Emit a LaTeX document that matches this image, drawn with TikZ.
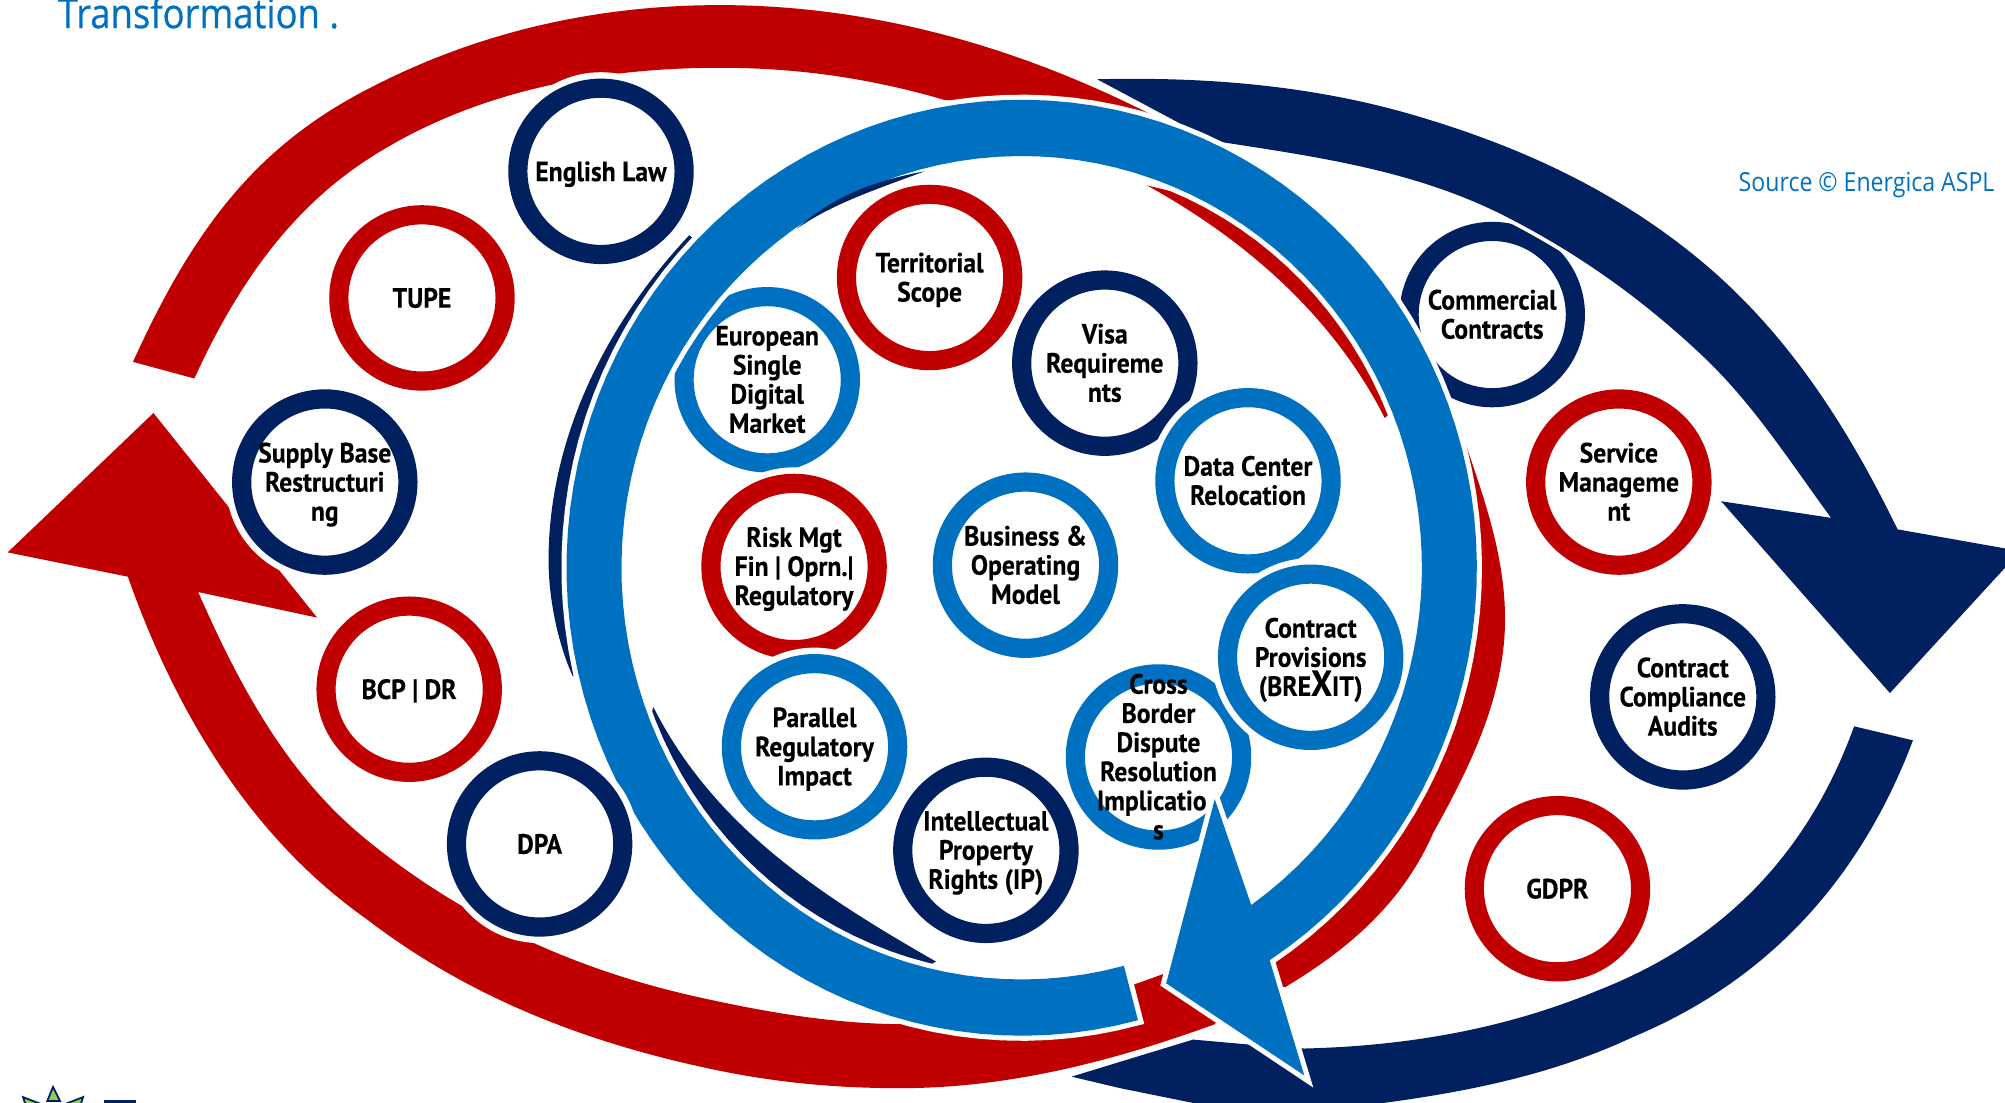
\documentclass[tikz,border=0pt]{standalone}
\usepackage{fontspec}
\setmainfont{PT Sans}[FakeStretch=0.92,BoldFeatures={FakeBold=0.25}]
\newfontfamily\srcfont{Open Sans}[FakeStretch=0.88]
\newfontfamily\titlefont{Open Sans}[FakeStretch=0.88,FakeBold=0.4]
\definecolor{cred}{HTML}{C00000}
\definecolor{cnavy}{HTML}{002060}
\definecolor{cblue}{HTML}{0070C0}
\definecolor{cgreen}{HTML}{92D050}
\tikzset{
  ringbase/.style={circle,inner sep=0pt,outer sep=0pt,minimum size=3.25cm,line width=0.375cm,
    preaction={draw=white,fill=white,line width=0.625cm}},
  ringlabel/.style={inner sep=0pt,align=center,text=black,yshift=-2.2pt,
    font=\bfseries\fontsize{15.5}{16.2}\selectfont,
    execute at begin node=\strut,execute at end node=\strut},
  halo/.style={preaction={draw=white,line width=0.2cm,line join=miter,miter limit=30}},
  halothin/.style={preaction={draw=white,line width=0.15cm,line join=miter,miter limit=30}},
  leafshape/.style={fill=cgreen,draw=cnavy,line width=1pt,line join=miter}
}
\newcommand{\ringat}[5]{%
  \node[ringbase,draw=#4] (#1) at (#2,#3) {};
  \node[ringlabel] (#1-t) at (#1) {#5};
}
\begin{document}
\begin{tikzpicture}[x=0.025cm,y=-0.025cm]
\useasboundingbox (0,0) rectangle (1568,862.6);
\clip (0,0) rectangle (1568,862.6);

% red top arc
\fill[cred] (104,283) .. controls (150,182) and (198,116) .. (287,70)
  .. controls (373,25) and (466,4) .. (563,4)
  .. controls (683,4) and (798,37) .. (905,92)
  -- (800,85) -- (738,78)
  .. controls (680,61) and (623,53) .. (563,53)
  .. controls (466,53) and (368,72) .. (287,125)
  .. controls (224,166) and (183,228) .. (152,296) -- cycle;

% crescents behind the blue ring
\fill[cnavy] (539,184) .. controls (474,253) and (429,343) .. (429,438)
  .. controls (429,470) and (437,505) .. (448,529)
  -- (465,510) -- (460,440) -- (480,320) -- (560,200) -- cycle;
\fill[cnavy] (511,553) .. controls (558,646) and (641,700) .. (732,752)
  -- (700,770) -- (650,750) -- (570,690) -- (500,590) -- cycle;
\fill[cred] (897,145) .. controls (975,188) and (1043,248) .. (1083,327)
  -- (1110,300) -- (1000,170) -- cycle;
\fill[cred] (1140,329) .. controls (1157,380) and (1177,430) .. (1177,484)
  .. controls (1177,544) and (1150,599) .. (1121,651)
  .. controls (1097,706) and (1055,742) .. (1005,772)
  -- (985,770) -- (1060,640) -- (1130,480) -- (1120,340) -- cycle;

% red lower arc with head
\fill[cred] (120,323) -- (248,483) -- (155,463)
  .. controls (187,536) and (225,607) .. (287,657)
  .. controls (363,719) and (451,759) .. (547,780)
  .. controls (601,792) and (654,801) .. (709,801)
  .. controls (793,801) and (874,779) .. (950,745)
  -- (960,785) -- (950,801)
  .. controls (870,830) and (789,851) .. (704,851)
  .. controls (650,851) and (600,846) .. (547,834)
  .. controls (452,813) and (364,778) .. (287,719)
  .. controls (196,655) and (137,556) .. (100,451)
  -- (6,432) -- cycle;

% navy lower arc
\fill[cnavy] (838,842) -- (933,813) -- (978,817) -- (1020,820)
  .. controls (1100,818) and (1177,805) .. (1251,774)
  .. controls (1350,735) and (1415,665) .. (1450,568)
  -- (1496,579)
  .. controls (1456,685) and (1385,766) .. (1277,811)
  .. controls (1190,852) and (1094,862) .. (1000,872)
  -- (950,866) -- (876,851) -- cycle;

\ringat{commercial}{1167}{246}{cnavy}{Commercial\\Contracts}

% navy top arc with head
\filldraw[cnavy,draw=none,halothin] (858,62)
  .. controls (938,60) and (1018,66) .. (1095,87)
  .. controls (1181,111) and (1260,146) .. (1329,203)
  .. controls (1398,260) and (1445,334) .. (1484,414)
  -- (1580,431) -- (1478,542) -- (1346,392) -- (1432,405)
  .. controls (1399,360) and (1370,314) .. (1329,276)
  .. controls (1282,232) and (1231,196) .. (1173,167)
  .. controls (1102,132) and (1025,122) .. (948,110)
  -- cycle;

% rings inside the blue ring
\ringat{european}{600}{297}{cblue}{European\\Single\\Digital\\Market}
\ringat{risk}{621}{443}{cred}{Risk Mgt\\Fin | Oprn.|\\Regulatory}
\ringat{parallel}{637}{584}{cblue}{Parallel\\Regulatory\\Impact}
\ringat{territorial}{727}{217}{cred}{Territorial\\Scope}
\ringat{visa}{864}{284}{cnavy}{Visa\\Requireme\\nts}
\ringat{datacenter}{976}{376}{cblue}{Data Center\\Relocation}
\ringat{business}{802}{442}{cblue}{Business \&\\Operating\\Model}
\ringat{crossborder}{906}{592}{cblue}{Cross\\Border\\Dispute\\Resolution\\Implicatio\rule{7.5pt}{0pt}\\s}
\ringat{contractprov}{1025}{514}{cblue}{Contract\\Provisions\\(BRE{\fontsize{20}{16.2}\selectfont X}IT)}
\ringat{ip}{771}{665}{cnavy}{Intellectual\\Property\\Rights (IP)}

% blue ring with head
\filldraw[cblue,draw=none,halo] plot[domain=75.2:417,samples=120] ({799+356*cos(\x)},{444+366*sin(\x)})
  -- (1020,841) -- (912,769) -- (950,625)
  -- plot[domain=415:75.2,samples=120] ({799+313*cos(\x)},{444+322*sin(\x)})
  -- cycle;

% thin navy sliver inside the ring
\fill[cnavy] (723,134) .. controls (680,150) and (650,160) .. (623,179) .. controls (650,155) and (680,142) .. cycle;

% outer rings
\ringat{english}{470}{134}{cnavy}{English Law}
\ringat{tupe}{330}{233}{cred}{TUPE}
\ringat{supply}{254}{377}{cnavy}{Supply Base\\Restructuri\\ng}
\ringat{bcp}{320}{539}{cred}{BCP | DR}
\ringat{dpa}{422}{660}{cnavy}{DPA}
\ringat{service}{1266}{377}{cred}{Service\\Manageme\\nt}
\ringat{compliance}{1316}{545}{cnavy}{Contract\\Compliance\\Audits}
\ringat{gdpr}{1218}{695}{cred}{GDPR}

% texts
\node[anchor=base west,inner sep=0pt,text=cblue,font=\titlefont\fontsize{23}{23}\selectfont] (title) at (45,22) {Transformation .};
\node[anchor=base east,inner sep=0pt,text=cblue,font=\srcfont\fontsize{14.6}{15}\selectfont] (source) at (1560,150) {Source © Energica ASPL};

% logo fragment
\filldraw[leafshape] (41.5,850) -- (37,861) -- (47,861) -- cycle;
\filldraw[leafshape] (18,858) -- (31,863) -- (22,870) -- cycle;
\filldraw[leafshape] (65,858) -- (52,863) -- (61,870) -- cycle;
\fill[cnavy] (81,860) rectangle (106,864);
\end{tikzpicture}
\end{document}
